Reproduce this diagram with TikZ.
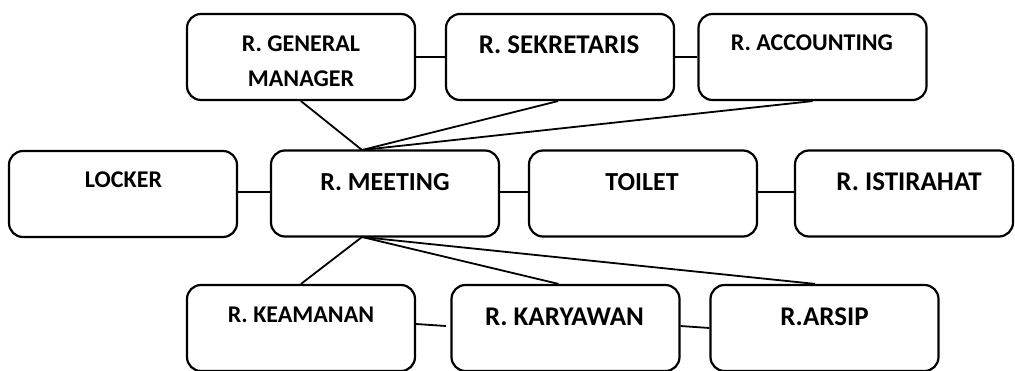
\documentclass[tikz,border=0pt]{standalone}
\usepackage{fontspec}
\setmainfont{Carlito}
\usetikzlibrary{calc}
\tikzset{
  room/.style={draw=black, line width=2.2pt, rounded corners=14pt, minimum width=228pt, minimum height=86pt, inner sep=0pt, fill=white},
  bigtxt/.style={font=\bfseries\fontsize{26}{30}\selectfont, inner sep=0pt, align=center},
  hugetxt/.style={font=\bfseries\fontsize{27}{30}\selectfont, inner sep=0pt, align=center},
  smalltxt/.style={font=\bfseries\fontsize{24}{35}\selectfont, inner sep=0pt, align=center},
  link/.style={draw=black, line width=1.8pt}
}
\begin{document}
\begin{tikzpicture}[x=1pt,y=-1pt]
\useasboundingbox (0,0) rectangle (1015,370);
% top row
\node[room] (gm) at (301,57) {};
\node[room] (sek) at (560,57) {};
\node[room] (acc) at (812.5,57) {};
% middle row
\node[room] (locker) at (123,194) {};
\node[room] (meet) at (385,193.5) {};
\node[room] (toilet) at (643,193.5) {};
\node[room, minimum width=218pt] (ist) at (904,193.5) {};
% bottom row
\node[room] (kea) at (301,328) {};
\node[room] (kar) at (565.5,328) {};
\node[room] (arsip) at (824.5,328) {};
% labels
\node[smalltxt] (gmt) at (301,61) {R. GENERAL\\MANAGER};
\node[hugetxt] (sekt) at (559,45) {R. SEKRETARIS};
\node[smalltxt] (acct) at (812,43) {R. ACCOUNTING};
\node[smalltxt] (lockert) at (123.5,180) {LOCKER};
\node[bigtxt] (meett) at (385,182) {R. MEETING};
\node[bigtxt] (toilett) at (642,182) {TOILET};
\node[hugetxt] (istt) at (909,182) {R. ISTIRAHAT};
\node[smalltxt] (keat) at (301,314.5) {R. KEAMANAN};
\node[hugetxt] (kart) at (564.5,317) {R. KARYAWAN};
\node[hugetxt] (arsipt) at (824.5,317) {R.ARSIP};
% junction points
\coordinate (mtop) at (362,150);
\coordinate (mbot) at (362,237);
\coordinate (kkend) at (446,326);
% connectors
\draw[link] (gm.east) -- (sek.west);
\draw[link] (sek.east) -- (acc.west);
\draw[link] (locker.east |- 0,192) -- (meet.west |- 0,192);
\draw[link] (meet.east |- 0,192) -- (toilet.west |- 0,192);
\draw[link] (toilet.east |- 0,192) -- (ist.west |- 0,192);
\draw[link] (gm.south) -- (mtop);
\draw[link] ($(sek.south)+(-2,0)$) -- (mtop);
\draw[link] (acc.south) -- (mtop);
\draw[link] (mbot) -- (kea.north);
\draw[link] (mbot) -- ($(kar.north)+(-7,0)$);
\draw[link] (mbot) -- ($(arsip.north)+(-9.5,0)$);
\draw[link] ($(kea.east)+(0,-4)$) -- (kkend);
\draw[link] ($(kar.east)+(0,-2)$) -- (arsip.west);
\end{tikzpicture}
\end{document}
